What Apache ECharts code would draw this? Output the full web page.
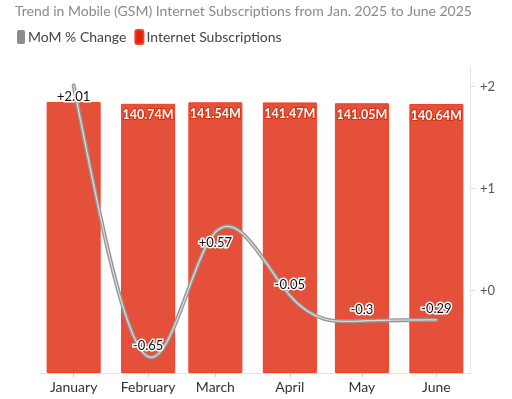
<!DOCTYPE html>
<html><head><meta charset="utf-8">
<script src="https://cdn.jsdelivr.net/npm/echarts@6/dist/echarts.min.js"></script>
<style>html,body{margin:0;padding:0;background:#fff}#c{width:512px;height:399px}</style>
</head><body><div id="c"></div>
<script>
const titleText = 'Trend in Mobile (GSM) Internet Subscriptions from Jan. 2025 to June 2025';
const months = ['January','February','March','April','May','June'];
const monthDates = ['2025-01-01','2025-02-01','2025-03-01','2025-04-01','2025-05-01','2025-06-01'];
const subscriptions = [141.66, 140.74, 141.54, 141.47, 141.05, 140.64]; // millions
const subscriptionLabelShown = [false, true, true, true, true, true];
const momChange = [2.01, -0.65, 0.57, -0.05, -0.3, -0.29];
const rightTicks = [0, 1, 2];

const fmtSigned = v => (v >= 0 ? '+' : '') + v;
const FONT = 'Lato';
const DAY = 86400000;
// day number of each month start (date scale expressed in days)
const days = monthDates.map(d => Math.round(new Date(d + 'T00:00:00Z').getTime() / DAY));

// natural cubic spline control points (as in d3.curveNatural)
function ctrl(x) {
  const n = x.length - 1, a = new Array(n), b = new Array(n), r = new Array(n);
  a[0] = 0; b[0] = 2; r[0] = x[0] + 2 * x[1];
  for (let i = 1; i < n - 1; ++i) { a[i] = 1; b[i] = 4; r[i] = 4 * x[i] + 2 * x[i + 1]; }
  a[n - 1] = 2; b[n - 1] = 7; r[n - 1] = 8 * x[n - 1] + x[n];
  for (let i = 1; i < n; ++i) { const m = a[i] / b[i - 1]; b[i] -= m; r[i] -= m * r[i - 1]; }
  a[n - 1] = r[n - 1] / b[n - 1];
  for (let i = n - 2; i >= 0; --i) a[i] = (r[i] - a[i + 1]) / b[i];
  b[n - 1] = (x[n] + a[n - 1]) / 2;
  for (let i = 0; i < n - 1; ++i) b[i] = 2 * x[i + 1] - a[i + 1];
  return [a, b];
}
function naturalPath(pts) {
  const xs = pts.map(p => p[0]), ys = pts.map(p => p[1]);
  const px = ctrl(xs), py = ctrl(ys);
  let d = 'M' + xs[0] + ' ' + ys[0];
  for (let i = 0; i < xs.length - 1; i++) {
    d += 'C' + px[0][i] + ' ' + py[0][i] + ' ' + px[1][i] + ' ' + py[1][i] + ' ' + xs[i + 1] + ' ' + ys[i + 1];
  }
  return d;
}

const chart = echarts.init(document.getElementById('c'), null, {renderer:'canvas'});
chart.setOption({
  animation: false,
  backgroundColor: '#fff',
  textStyle: {fontFamily: FONT},
  title: {
    text: titleText, left: 10, top: -1,
    textStyle: {fontFamily: FONT, fontSize: 14, fontWeight: 'normal', color: '#8a8a8a'}
  },
  legend: {
    left: 12, top: 24, itemWidth: 8, itemHeight: 14, itemGap: 8,
    icon: 'roundRect',
    textStyle: {fontFamily: FONT, fontSize: 14, color: '#444', padding:[0,0,0,-2]},
    data: [
      {name: 'MoM % Change', itemStyle: {color: '#8c8c8c'}},
      {name: 'Internet Subscriptions', itemStyle: {color: '#e0220c'}}
    ]
  },
  grid: {left: 40, right: 42, top: 67, bottom: 26, containLabel: false},
  xAxis: {
    type: 'value',
    min: days[0] - 14, max: days[days.length - 1] + 14,
    splitLine: {show: false},
    axisLine: {lineStyle: {color: '#e2e2e2', width: 1}},
    axisTick: {show: true, length: 4, lineStyle: {color: '#ccc'}, customValues: days},
    axisLabel: {fontFamily: FONT, fontSize: 14, color: '#333', margin: 7,
      customValues: days,
      formatter: v => { const i = days.indexOf(Math.round(v)); return i >= 0 ? months[i] : ''; }}
  },
  yAxis: [
    {type: 'value', min: 0, max: 160, show: false},
    {type: 'value', position: 'right', min: -0.81, max: 2.19,
     splitLine: {show: false},
     axisLine: {show: true, lineStyle: {color: '#e8e8e8'}},
     axisTick: {show: true, length: 5, lineStyle: {color: '#ddd'}, customValues: rightTicks},
     axisLabel: {fontFamily: FONT, fontSize: 13, color: '#555', margin: 10,
       customValues: rightTicks, formatter: v => '+' + v}
    }
  ],
  series: [
    {
      name: 'Internet Subscriptions', type: 'bar', yAxisIndex: 0,
      barWidth: 54,
      itemStyle: {color: '#e4503a', borderColor: '#f2401f', borderWidth: 1},
      label: {
        position: 'insideTop', distance: 5,
        fontFamily: FONT, fontSize: 12.5, fontWeight: 'bold', color: '#fff',
        textBorderColor: '#d8300f', textBorderWidth: 2,
        formatter: p => p.value[1] + 'M'
      },
      data: subscriptions.map((v, i) => ({value: [days[i], v], label: {show: subscriptionLabelShown[i]}})),
      z: 1
    },
    {
      name: 'MoM curve', type: 'custom', yAxisIndex: 1, silent: true,
      data: momChange.map((v, i) => [days[i], v]),
      renderItem: (params, api) => {
        if (params.dataIndex !== 0) return null;
        const pts = momChange.map((v, i) => api.coord([days[i], v]));
        const d = naturalPath(pts);
        return {type: 'group', children: [
          {type: 'path', shape: {pathData: d}, style: {fill: null, stroke: '#959595', lineWidth: 4, lineCap: 'round'}},
          {type: 'path', shape: {pathData: d}, style: {fill: null, stroke: '#d9d9d9', lineWidth: 1.3, lineCap: 'round'}}
        ]};
      },
      z: 3
    },
    {
      name: 'MoM % Change', type: 'line', yAxisIndex: 1,
      symbol: 'circle', symbolSize: 1, showSymbol: true,
      lineStyle: {opacity: 0},
      itemStyle: {color: 'rgba(0,0,0,0)'},
      label: {
        show: true, fontFamily: FONT, fontSize: 13, color: '#111',
        textBorderColor: '#fff', textBorderWidth: 3, distance: 4,
        formatter: p => fmtSigned(p.value[1])
      },
      data: momChange.map((v, i) => ({value: [days[i], v], label: {position: v > 0 ? 'bottom' : 'top'}})),
      z: 5
    }
  ]
});
</script></body></html>
